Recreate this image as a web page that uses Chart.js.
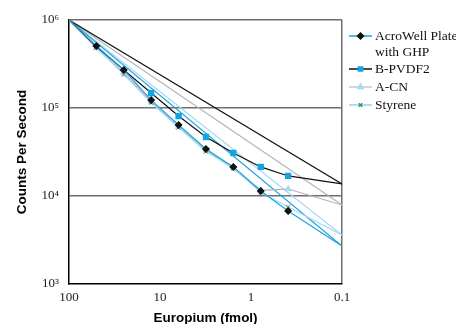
<!DOCTYPE html>
<html><head><meta charset="utf-8">
<script src="https://cdn.jsdelivr.net/npm/chart.js@4/dist/chart.umd.min.js"></script>
<style>html,body{margin:0;padding:0;background:#fff}</style>
</head><body>
<canvas id="c" width="456" height="324"></canvas>
<script>
// ---- data ----
const europium = [100, 50, 25, 12.5, 6.25, 3.125, 1.5625, 0.78125, 0.390625, 0.1];
const acrowell = [1e6, 507000, 270000, 123000, 64000, 34200, 21400, 11400, 6760, 2700];
const bpvdf2   = [1e6, 500000, 270000, 148000, 81000, 46800, 30800, 21400, 16900, 13700];
const acn      = [1e6, 480000, 250000, 118000, 61000, 33000, 21000, 11600, 12000, 7900];
const styrene  = [1e6, 490000, 240000, 115000, 60000, 32000, 20500, 11000, 7500, 3600];
const fitStart = [100, 1e6];
const fitEnd = { acrowell: [0.1, 2700], bpvdf2: [0.1, 13700], acn: [0.1, 7900], styrene: [0.1, 3600] };
const yTickValues = [1e3, 1e4, 1e5, 1e6];
const yTickLabels = ['10³', '10⁴', '10⁵', '10⁶'];
const xTickValues = [100, 10, 1, 0.1];
const xTickLabels = ['100', '10', '1', '0.1'];
const seriesNames = ['AcroWell Plate with GHP', 'B-PVDF2', 'A-CN', 'Styrene'];

const BLUE = '#1ea3df', LBLUE = '#a3d9f3', GRAY = '#b4b4b4', BLACK = '#111111', GREEN = '#2f9a50';

const pts = arr => europium.map((x, i) => ({ x, y: arr[i] }));
const fit = end => [{ x: fitStart[0], y: fitStart[1] }, { x: end[0], y: end[1] }];
const radii = (r, hidden) => europium.map((x, i) => (i === 0 || i === europium.length - 1 || (hidden || []).includes(i)) ? 0 : r);

const datasets = [
  { label: seriesNames[0], data: pts(acrowell), borderColor: BLUE, borderWidth: 1.2,
    pointStyle: 'rectRot', pointRadius: radii(3.2), pointBackgroundColor: BLACK, pointBorderColor: BLACK, order: 0 },
  { label: seriesNames[1], data: pts(bpvdf2), borderColor: BLACK, borderWidth: 1.2,
    pointStyle: 'rect', pointRadius: radii(3.6, [1, 2]), pointBackgroundColor: '#12a4e3', pointBorderColor: '#12a4e3', order: 1 },
  { label: seriesNames[2], data: pts(acn), borderColor: GRAY, borderWidth: 1.2,
    pointStyle: 'triangle', pointRadius: radii(3.2), pointBackgroundColor: LBLUE, pointBorderColor: LBLUE, order: 3 },
  { label: seriesNames[3], data: pts(styrene), borderColor: LBLUE, borderWidth: 1.2,
    pointStyle: 'crossRot', pointRadius: radii(3), pointBorderColor: '#8a9a90', pointBorderWidth: 1.2, order: 2 },
  { label: 'fit1', data: fit(fitEnd.acrowell), borderColor: BLUE, borderWidth: 1.2, pointRadius: 0, order: 5 },
  { label: 'fit2', data: fit(fitEnd.bpvdf2), borderColor: BLACK, borderWidth: 1.1, pointRadius: 0, order: 4 },
  { label: 'fit3', data: fit(fitEnd.acn), borderColor: GRAY, borderWidth: 1.1, pointRadius: 0, order: 6 },
  { label: 'fit4', data: fit(fitEnd.styrene), borderColor: LBLUE, borderWidth: 1.2, pointRadius: 0, order: 7 }
];
datasets.forEach(d => { d.fill = false; d.tension = 0; d.showLine = true; });

const serif = '"Liberation Serif", "Times New Roman", serif';
const sans = '"Liberation Sans", Arial, sans-serif';

const extras = {
  id: 'extras',
  afterDraw(chart) {
    const ctx = chart.ctx, ca = chart.chartArea;
    ctx.save();
    // axis titles
    ctx.fillStyle = '#000';
    ctx.font = 'bold 13.5px ' + sans;
    ctx.textAlign = 'center'; ctx.textBaseline = 'middle';
    ctx.fillText('Europium (fmol)', (ca.left + ca.right) / 2, 318);
    ctx.save();
    ctx.translate(22, (ca.top + ca.bottom) / 2);
    ctx.rotate(-Math.PI / 2);
    ctx.fillText('Counts Per Second', 0, 0);
    ctx.restore();
    // legend
    const items = [
      { ds: 0, y: 36, lines: ['AcroWell Plate', 'with GHP'] },
      { ds: 1, y: 69, lines: ['B-PVDF2'] },
      { ds: 2, y: 87, lines: ['A-CN'] },
      { ds: 3, y: 105, lines: ['Styrene'] }
    ];
    const legendLine = [BLUE, BLACK, '#c8c8c8', '#8fd3f2'];
    items.forEach((it, k) => {
      const d = chart.data.datasets[it.ds];
      ctx.strokeStyle = legendLine[k]; ctx.lineWidth = 1.5;
      ctx.beginPath(); ctx.moveTo(349, it.y); ctx.lineTo(372, it.y); ctx.stroke();
      const opts = {
        pointStyle: d.pointStyle, radius: k === 3 ? 2.5 : 3,
        borderWidth: 1.2, rotation: 0
      };
      ctx.fillStyle = d.pointBackgroundColor || '#000';
      ctx.strokeStyle = k === 3 ? GREEN : (d.pointBorderColor || '#000');
      Chart.helpers.drawPoint(ctx, opts, 360.5, it.y);
      ctx.fillStyle = '#111';
      ctx.font = '13.5px ' + serif;
      ctx.textAlign = 'left'; ctx.textBaseline = 'middle';
      it.lines.forEach((t, j) => ctx.fillText(t, 375, it.y + 16 * j));
    });
    ctx.restore();
  }
};

new Chart(document.getElementById('c'), {
  type: 'line',
  data: { datasets },
  plugins: [extras],
  options: {
    responsive: false, animation: false,
    layout: { padding: { left: 0, right: 114, top: 20, bottom: 0 } },
    plugins: { legend: { display: false }, tooltip: { enabled: false } },
    scales: {
      x: {
        type: 'logarithmic', reverse: true, min: 0.1, max: 100,
        afterBuildTicks: s => { s.ticks = xTickValues.map(v => ({ value: v })); },
        afterFit: s => { s.height = 40; },
        ticks: {
          autoSkip: false, maxRotation: 0, padding: 6, color: '#222',
          font: { family: serif, size: 13 },
          callback: (v) => xTickLabels[xTickValues.indexOf(v)]
        },
        grid: {
          drawTicks: false,
          color: c => (c.tick && c.tick.value === 0.1) ? '#6f6f6f' : 'rgba(0,0,0,0)',
          lineWidth: 1.5
        },
        border: { color: '#000', width: 1.5 }
      },
      y: {
        type: 'logarithmic', min: 1e3, max: 1e6,
        afterBuildTicks: s => { s.ticks = yTickValues.map(v => ({ value: v })); },
        afterFit: s => { s.width = 69; },
        ticks: {
          autoSkip: false, padding: 10, color: '#222',
          font: { family: serif, size: 13 },
          callback: (v) => yTickLabels[yTickValues.indexOf(v)]
        },
        grid: {
          drawTicks: false,
          color: c => (c.tick && c.tick.value > 1e3) ? '#6f6f6f' : 'rgba(0,0,0,0)',
          lineWidth: 1.5
        },
        border: { color: '#000', width: 1.5 }
      }
    }
  }
});
</script>
</body></html>
